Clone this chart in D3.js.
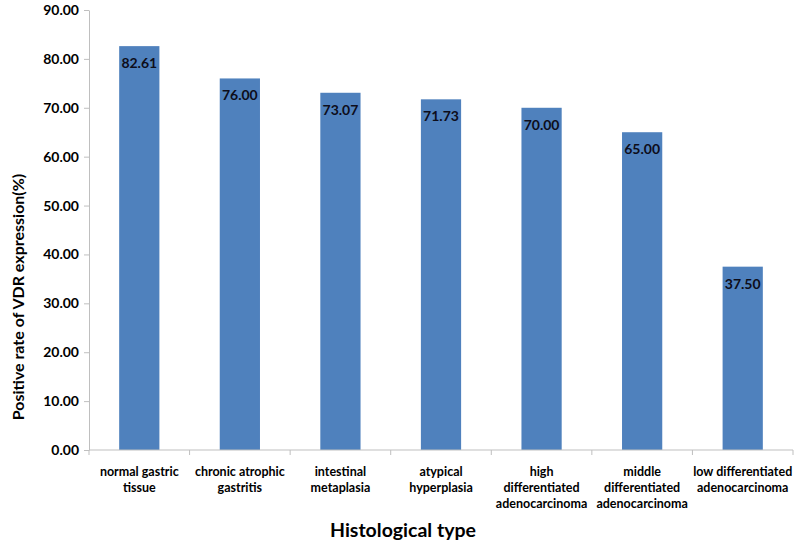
<!DOCTYPE html>
<html><head><meta charset="utf-8">
<script src="https://cdn.jsdelivr.net/npm/d3@7"></script>
<style>body{margin:0;background:#fff}svg text{font-family:Lato,"Open Sans",sans-serif;font-weight:bold}</style>
</head><body>
<svg id="c" width="800" height="546"></svg>
<script>
const categories = ["normal gastric tissue","chronic atrophic gastritis","intestinal metaplasia","atypical hyperplasia","high differentiated adenocarcinoma","middle differentiated adenocarcinoma","low differentiated adenocarcinoma"];
const categoryLines = [["normal gastric","tissue"],["chronic atrophic","gastritis"],["intestinal","metaplasia"],["atypical","hyperplasia"],["high","differentiated","adenocarcinoma"],["middle","differentiated","adenocarcinoma"],["low differentiated","adenocarcinoma"]];
const values = [82.61, 76.00, 73.07, 71.73, 70.00, 65.00, 37.50];
const yTicks = [0,10,20,30,40,50,60,70,80,90];

const svg = d3.select("#c");
const X0 = 89, X1 = 793, Y0 = 450;
const x = d3.scaleBand().domain(categories).range([X0, X1]).paddingInner(0.6).paddingOuter(0.3);
const y = d3.scaleLinear().domain([0, 90]).range([Y0, 10]);
const axisColor = "#bfbfbf";

// y axis
const ya = svg.append("g").attr("transform",`translate(${X0},0)`)
  .call(d3.axisLeft(y).tickValues(yTicks).tickFormat(d3.format(".2f")).tickSize(5).tickSizeOuter(0));
ya.select(".domain").attr("stroke", axisColor);
ya.selectAll(".tick line").attr("stroke", axisColor);
ya.selectAll(".tick text").attr("font-size", 14).attr("fill","#000").attr("x",-10);

// bars
svg.selectAll("rect.bar").data(values).join("rect").attr("class","bar")
  .attr("x",(d,i)=>x(categories[i])).attr("width",x.bandwidth())
  .attr("y",d=>y(d)).attr("height",d=>y(0)-y(d)).attr("fill","#4f81bd");

// value labels
svg.selectAll("text.val").data(values).join("text").attr("class","val")
  .attr("x",(d,i)=>x(categories[i])+x.bandwidth()/2).attr("y",d=>y(d)+22)
  .attr("text-anchor","middle").attr("font-size",14).attr("fill","#0d0d1a")
  .text(d=>d3.format(".2f")(d));

// x axis
const xa = svg.append("g").attr("transform",`translate(0,${Y0})`);
xa.append("line").attr("x1",X0).attr("x2",X1).attr("stroke",axisColor);
d3.range(categories.length+1).forEach(i=>{
  const tx = X0 + i*x.step();
  xa.append("line").attr("x1",tx).attr("x2",tx).attr("y1",0).attr("y2",5).attr("stroke",axisColor);
});
categories.forEach((c,i)=>{
  const cx = x(c)+x.bandwidth()/2;
  const t = svg.append("text").attr("text-anchor","middle").attr("font-size",12.5).attr("fill","#000")
    .attr("x", cx).attr("y", 476);
  categoryLines[i].forEach((l,j)=>t.append("tspan").attr("x", cx).attr("dy", j===0?0:16).text(l));
});

// titles
svg.append("text").attr("x",403).attr("y",537).attr("text-anchor","middle").attr("font-size",19.5).attr("fill","#000").text("Histological type");
svg.append("text").attr("transform","translate(24,297) rotate(-90)").attr("text-anchor","middle").attr("font-size",16).attr("fill","#000").text("Positive rate of  VDR expression(%)");
</script>
</body></html>
